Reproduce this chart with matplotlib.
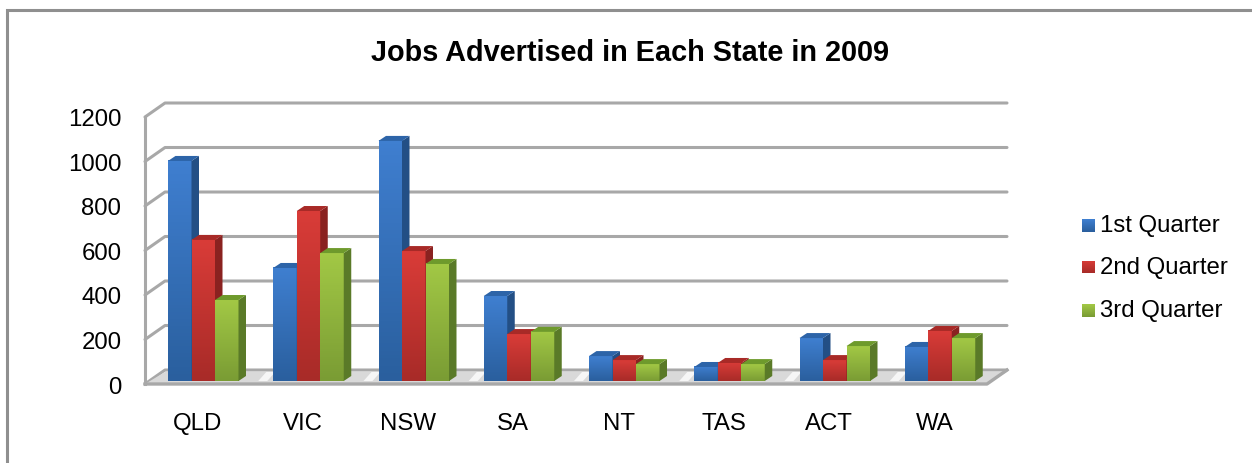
import matplotlib
matplotlib.use('Agg')
import matplotlib.pyplot as plt
import numpy as np
from matplotlib.colors import LinearSegmentedColormap
from matplotlib.lines import Line2D
from matplotlib.patches import Polygon

states = ['QLD', 'VIC', 'NSW', 'SA', 'NT', 'TAS', 'ACT', 'WA']
q1 = [989, 508, 1079, 382, 112, 63, 193, 153]
q2 = [634, 764, 584, 211, 94, 81, 94, 225]
q3 = [364, 575, 526, 221, 76, 76, 157, 193]
series_names = ['1st Quarter', '2nd Quarter', '3rd Quarter']
y_ticks = [0, 200, 400, 600, 800, 1000, 1200]

# (gradient top, gradient bottom, side face, top face)
styles = [
    ('#3f7fd0', '#2a5f9e', '#234f85', '#2d64a8'),
    ('#d93c38', '#a82b28', '#8a2220', '#a82a27'),
    ('#a2c845', '#7a9c34', '#5a7a28', '#6e9a2c'),
]

W, H = 1252, 464
GRID = '#a8a8a8'
plt.rcParams['font.family'] = ['Liberation Sans', 'DejaVu Sans']

fig = plt.figure(figsize=(W / 100, H / 100), dpi=100)
fig.patch.set_facecolor('white')

# chart border, only top and left edges fall inside the image
fig.add_artist(Line2D([6.5 / W, 6.5 / W, 1], [0, 1 - 10.5 / H, 1 - 10.5 / H],
                      color='#8f8f8f', linewidth=2.2, solid_joinstyle='miter'))

# axes cover the front plane of the 3D box
left, right, bottom, top = 145, 987, 385, 118
ax = fig.add_axes([left / W, 1 - bottom / H, (right - left) / W, (bottom - top) / H])
ax.set_xlim(0, len(states))
ax.set_ylim(0, 1200)
ax.patch.set_alpha(0)
for s in ax.spines.values():
    s.set_visible(False)

px = len(states) / (right - left)
py = 1200 / (bottom - top)
depth_x, depth_y = 20 * px, 14 * py
back_x = len(states) + depth_x

# wall gridlines
for v in y_ticks:
    ax.plot([0, depth_x, back_x], [v, v + depth_y, v + depth_y], color=GRID, lw=2.2,
            clip_on=False, zorder=2, solid_capstyle='round', solid_joinstyle='round')

# floor, grey with a lighter streak in each gap between groups
ax.add_patch(Polygon([(0, 0), (len(states), 0), (back_x, depth_y - 2 * py), (depth_x, depth_y - 2 * py)],
                     closed=True, facecolor='#d9d9d9', edgecolor='none', clip_on=False, zorder=3))
for i in range(len(states) - 1):
    gap = i + 1 + 8 * px
    ax.add_patch(Polygon([(gap, 3 * py), (gap + 9 * px, 3 * py),
                          (gap + 17 * px, depth_y - 2 * py), (gap + 8 * px, depth_y - 2 * py)],
                         closed=True, facecolor='#f6f6f6', edgecolor='none', clip_on=False, zorder=3))
ax.plot([0, 0], [0, 1200], color=GRID, lw=2.2, clip_on=False, zorder=4)
ax.plot([0, len(states), back_x], [0, 0, depth_y], color=GRID, lw=2.4, clip_on=False, zorder=4)


def gradient_cmap(c_top, c_bottom):
    return LinearSegmentedColormap.from_list('bar', [c_bottom, c_top])


def draw_bar(x0, x1, value, base, style, z):
    c_top, c_bottom, side, cap = style
    dx, dy = 7.5 * px, 5 * py
    grad = np.linspace(1, 0, 64).reshape(-1, 1)
    ax.imshow(grad, extent=(x0, x1, base, value + base), aspect='auto', origin='upper',
              cmap=gradient_cmap(c_top, c_bottom), zorder=z, clip_on=False)
    ax.add_patch(Polygon([(x1, base), (x1 + dx, base + dy), (x1 + dx, value + base + dy), (x1, value + base)],
                         closed=True, facecolor=side, edgecolor='none', zorder=z, clip_on=False))
    ax.add_patch(Polygon([(x0, value + base), (x0 + dx, value + base + dy),
                          (x1 + dx, value + base + dy), (x1, value + base)],
                         closed=True, facecolor=cap, edgecolor='none', zorder=z, clip_on=False))


# three bars per state, drawn left to right so each covers the previous side face
bar_w = 23.5 * px
first = 23 * px
base_y = 3 * py
for i in range(len(states)):
    for j, vals in enumerate([q1, q2, q3]):
        x0 = i + first + j * bar_w
        draw_bar(x0, x0 + bar_w, vals[i], base_y, styles[j], 5 + j)

ax.set_xlim(0, len(states))
ax.set_ylim(0, 1200)

ax.set_xticks(np.arange(len(states)) + 0.5)
ax.set_xticklabels(states)
ax.set_yticks(y_ticks)
ax.tick_params(axis='both', length=0, labelsize=17.3, labelcolor='black')
ax.tick_params(axis='x', pad=20)
ax.tick_params(axis='y', pad=17)

fig.text(630 / W, 1 - 53 / H, 'Jobs Advertised in Each State in 2009', ha='center', va='center',
         fontsize=20.8, fontweight='bold', color='black')

# legend
for name, style, y in zip(series_names, styles, [226, 268, 311]):
    swatch = fig.add_axes([1082 / W, 1 - (y + 6.5) / H, 13 / W, 13 / H])
    swatch.imshow(np.linspace(1, 0, 16).reshape(-1, 1), aspect='auto',
                  cmap=gradient_cmap(style[0], style[1]))
    swatch.axis('off')
    fig.text(1100 / W, 1 - y / H, name, ha='left', va='center', fontsize=17.3, color='black')

fig.savefig('out.png', dpi=100)
